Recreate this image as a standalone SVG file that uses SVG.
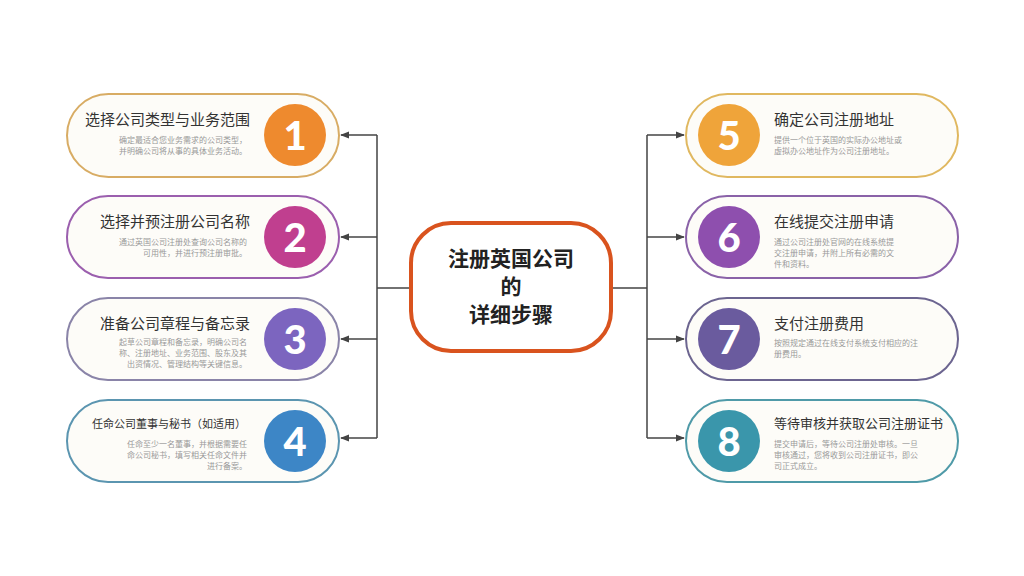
<svg xmlns="http://www.w3.org/2000/svg" width="1024" height="576" viewBox="0 0 1024 576">
<defs>
<style>
.pill{fill:#fdfcf8;stroke-width:2}
.t{font-family:"Noto Sans CJK SC","Noto Sans",sans-serif;font-size:15px;fill:#333}
.d{font-family:"Noto Sans CJK SC","Noto Sans",sans-serif;font-size:8px;fill:#999}
.n{font-family:Lato,"Open Sans",sans-serif;font-weight:900;font-size:40px;fill:#fff;text-anchor:middle}
.c{fill:none;stroke:#444;stroke-width:1.5}
.h{font-family:"Noto Sans CJK SC",sans-serif;font-weight:bold;font-size:21px;fill:#222;text-anchor:middle}
</style>
<marker id="a" viewBox="0 0 10 10" refX="9" refY="5" markerWidth="6" markerHeight="6" orient="auto"><path d="M0,1L10,5L0,9z" fill="#444"/></marker>
</defs>
<rect width="1024" height="576" fill="#fff"/>
<g id="connectors">
<path class="c" d="M410,288H377M377,135V438"/>
<path class="c" d="M377,135H341" marker-end="url(#a)"/>
<path class="c" d="M377,237H341" marker-end="url(#a)"/>
<path class="c" d="M377,339H341" marker-end="url(#a)"/>
<path class="c" d="M377,438H341" marker-end="url(#a)"/>
<path class="c" d="M612,288H647M647,135V438"/>
<path class="c" d="M647,135H684" marker-end="url(#a)"/>
<path class="c" d="M647,237H684" marker-end="url(#a)"/>
<path class="c" d="M647,339H684" marker-end="url(#a)"/>
<path class="c" d="M647,438H684" marker-end="url(#a)"/>
</g>
<g id="center">
<rect x="411" y="223" width="200" height="128" rx="40" fill="#fff" stroke="#d9531e" stroke-width="4"/>
<text class="h" x="511" y="266">注册英国公司</text>
<text class="h" x="511" y="294">的</text>
<text class="h" x="511" y="322">详细步骤</text>
</g>
<g id="n1">
<rect class="pill" x="67" y="94" width="272" height="83" rx="41.5" stroke="#d8ac64"/>
<circle cx="295" cy="135" r="31" fill="#ee8a2e"/><text class="n" x="295" y="150">1</text>
<text class="t" x="250" y="125" text-anchor="end">选择公司类型与业务范围</text>
<text class="d" x="247" y="143" text-anchor="end">确定最适合您业务需求的公司类型，</text>
<text class="d" x="247" y="154" text-anchor="end">并明确公司将从事的具体业务活动。</text>
</g>
<g id="n2">
<rect class="pill" x="67" y="196" width="272" height="82" rx="41" stroke="#9b5fae"/>
<circle cx="295" cy="237" r="31" fill="#c03f8f"/><text class="n" x="295" y="252">2</text>
<text class="t" x="250" y="227" text-anchor="end">选择并预注册公司名称</text>
<text class="d" x="247" y="245" text-anchor="end">通过英国公司注册处查询公司名称的</text>
<text class="d" x="247" y="256" text-anchor="end">可用性，并进行预注册审批。</text>
</g>
<g id="n3">
<rect class="pill" x="67" y="298" width="272" height="82" rx="41" stroke="#8a84a8"/>
<circle cx="295" cy="339" r="31" fill="#7c65bf"/><text class="n" x="295" y="354">3</text>
<text class="t" x="250" y="329" text-anchor="end">准备公司章程与备忘录</text>
<text class="d" x="247" y="345" text-anchor="end">起草公司章程和备忘录，明确公司名</text>
<text class="d" x="247" y="356" text-anchor="end">称、注册地址、业务范围、股东及其</text>
<text class="d" x="247" y="367" text-anchor="end">出资情况、管理结构等关键信息。</text>
</g>
<g id="n4">
<rect class="pill" x="67" y="400" width="272" height="82" rx="41" stroke="#5b95b0"/>
<circle cx="295" cy="441" r="31" fill="#3d86c6"/><text class="n" x="295" y="456">4</text>
<text class="t" x="246" y="428" text-anchor="end" style="font-size:11px">任命公司董事与秘书（如适用）</text>
<text class="d" x="247" y="447" text-anchor="end">任命至少一名董事，并根据需要任</text>
<text class="d" x="247" y="458" text-anchor="end">命公司秘书，填写相关任命文件并</text>
<text class="d" x="247" y="469" text-anchor="end">进行备案。</text>
</g>
<g id="n5">
<rect class="pill" x="686" y="94" width="272" height="83" rx="41.5" stroke="#e0b860"/>
<circle cx="729" cy="135" r="31" fill="#efa43a"/><text class="n" x="729" y="150">5</text>
<text class="t" x="774" y="125">确定公司注册地址</text>
<text class="d" x="774" y="143">提供一个位于英国的实际办公地址或</text>
<text class="d" x="774" y="154">虚拟办公地址作为公司注册地址。</text>
</g>
<g id="n6">
<rect class="pill" x="686" y="196" width="272" height="82" rx="41" stroke="#8a62a8"/>
<circle cx="729" cy="237" r="31" fill="#8e4fae"/><text class="n" x="729" y="252">6</text>
<text class="t" x="774" y="227">在线提交注册申请</text>
<text class="d" x="774" y="245">通过公司注册处官网的在线系统提</text>
<text class="d" x="774" y="256">交注册申请，并附上所有必需的文</text>
<text class="d" x="774" y="267">件和资料。</text>
</g>
<g id="n7">
<rect class="pill" x="686" y="298" width="272" height="82" rx="41" stroke="#6c6590"/>
<circle cx="729" cy="339" r="31" fill="#6a5b9e"/><text class="n" x="729" y="354">7</text>
<text class="t" x="774" y="329">支付注册费用</text>
<text class="d" x="774" y="346">按照规定通过在线支付系统支付相应的注</text>
<text class="d" x="774" y="357">册费用。</text>
</g>
<g id="n8">
<rect class="pill" x="686" y="400" width="272" height="82" rx="41" stroke="#4f9aa8"/>
<circle cx="729" cy="441" r="31" fill="#3a96ab"/><text class="n" x="729" y="456">8</text>
<text class="t" x="774" y="428" style="font-size:13px">等待审核并获取公司注册证书</text>
<text class="d" x="774" y="447">提交申请后，等待公司注册处审核。一旦</text>
<text class="d" x="774" y="458">审核通过，您将收到公司注册证书，即公</text>
<text class="d" x="774" y="469">司正式成立。</text>
</g>
</svg>
